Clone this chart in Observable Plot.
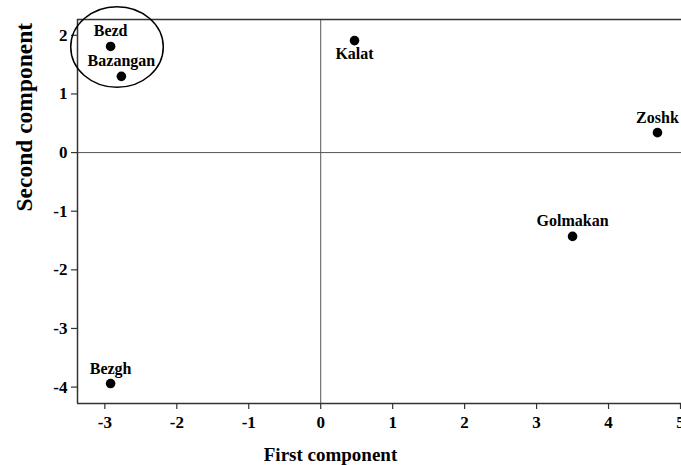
<!DOCTYPE html>
<html><head><meta charset="utf-8">
<script src="https://cdn.jsdelivr.net/npm/d3@7"></script>
<script src="https://cdn.jsdelivr.net/npm/@observablehq/plot@0.6"></script>
<style>
body{margin:0;background:#fff;}
svg text{font-family:'Liberation Serif','Times New Roman',serif;font-weight:bold;}
g[aria-label$="tick label"], g[aria-label$="tick label"] text{font-size:17px !important;font-weight:bold !important;}
</style>
</head><body><div id="chart"></div>
<script>
const sites = ["Bezd", "Bazangan", "Kalat", "Zoshk", "Golmakan", "Bezgh"];
const firstComponent = [-2.92, -2.77, 0.47, 4.68, 3.50, -2.92];
const secondComponent = [1.81, 1.30, 1.91, 0.34, -1.43, -3.94];
const labelSide = ["above", "above", "below", "above", "above", "above"];
const xTicks = [-3, -2, -1, 0, 1, 2, 3, 4, 5];
const yTicks = [-4, -3, -2, -1, 0, 1, 2];
const xDomain = [-3.38, 5.014];
const yDomain = [-4.28, 2.27];
const clusterCenter = [-2.824, 1.793];
const clusterRadii = [0.643, 0.687];

const data = sites.map((site, i) => ({
  site, pc1: firstComponent[i], pc2: secondComponent[i], side: labelSide[i]
}));

function clusterOutline(index, scales) {
  const [cx, cy] = clusterCenter;
  const [rx, ry] = clusterRadii;
  const x0 = scales.x(cx), y0 = scales.y(cy);
  return d3.create("svg:ellipse")
    .attr("cx", x0).attr("cy", y0)
    .attr("rx", Math.abs(scales.x(cx + rx) - x0))
    .attr("ry", Math.abs(scales.y(cy + ry) - y0))
    .attr("fill", "none").attr("stroke", "black").attr("stroke-width", 1.5)
    .node();
}

const textBase = {fontWeight: "bold", fill: "black"};

const chart = Plot.plot({
  width: 681,
  height: 465,
  marginLeft: 77,
  marginRight: 0,
  marginTop: 19,
  marginBottom: 62,
  style: {fontFamily: "'Liberation Serif', 'Times New Roman', serif", fontSize: "16px", fontWeight: "bold", background: "white", color: "black"},
  x: {domain: xDomain},
  y: {domain: yDomain},
  marks: [
    Plot.ruleX([0], {stroke: "#555", strokeWidth: 1}),
    Plot.ruleY([0], {stroke: "#555", strokeWidth: 1}),
    Plot.ruleY([yDomain[1]], {stroke: "#333", strokeWidth: 1.5}),
    Plot.ruleY([yDomain[0]], {stroke: "#333", strokeWidth: 1.5}),
    Plot.ruleX([xDomain[0]], {stroke: "#333", strokeWidth: 1.5}),
    Plot.axisX({ticks: xTicks, tickSize: 6, tickPadding: 6, tickFormat: d => String(d), label: null, fontSize: 17, fontWeight: "bold", stroke: "#333", strokeWidth: 1.2}),
    Plot.axisY({ticks: yTicks, tickSize: 6, tickPadding: 4, tickFormat: d => String(d), label: null, fontSize: 17, fontWeight: "bold", stroke: "#333", strokeWidth: 1.2}),
    Plot.dot(data, {x: "pc1", y: "pc2", r: 4.8, fill: "black", stroke: "none"}),
    Plot.text(data.filter(d => d.side === "above"), {x: "pc1", y: "pc2", text: "site", dy: -10, lineAnchor: "bottom", fontSize: 16, ...textBase}),
    Plot.text(data.filter(d => d.side === "below"), {x: "pc1", y: "pc2", text: "site", dy: 18, lineAnchor: "bottom", fontSize: 16, ...textBase}),
    clusterOutline,
    Plot.text(["First component"], {frameAnchor: "bottom", dx: -49, dy: 57, lineAnchor: "bottom", fontSize: 19, ...textBase}),
    Plot.text(["Second component"], {frameAnchor: "left", rotate: -90, dx: -53, lineAnchor: "middle", fontSize: 23.5, ...textBase})
  ]
});
document.getElementById("chart").appendChild(chart);
</script>
</body></html>
